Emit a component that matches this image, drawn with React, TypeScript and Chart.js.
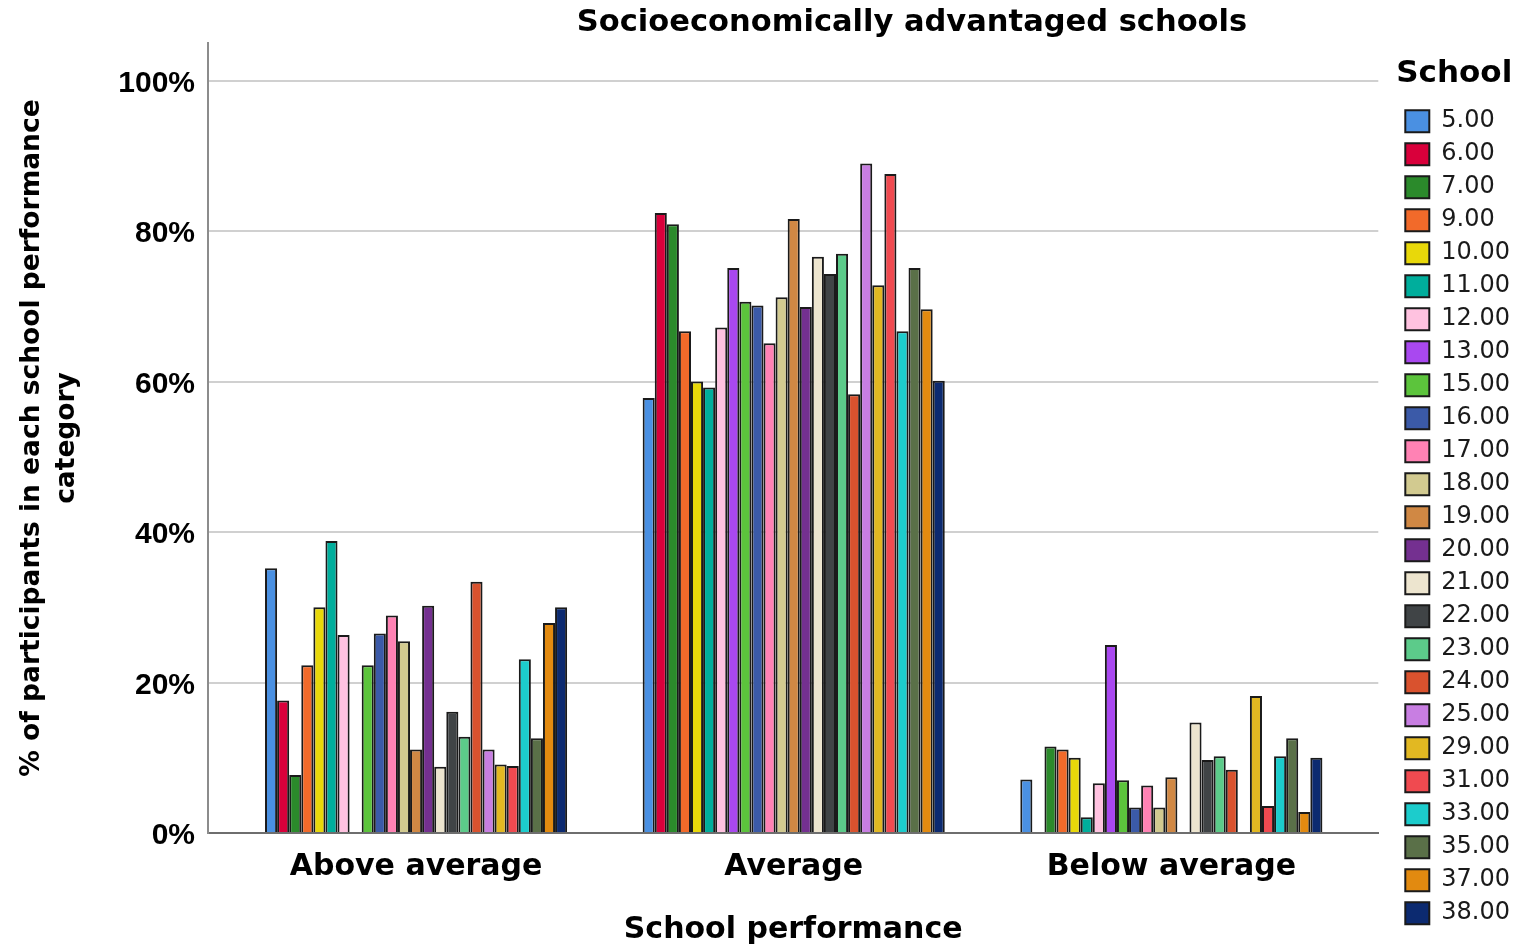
import { useEffect, useRef } from 'react';
import { Chart, registerables } from 'chart.js';

Chart.register(...registerables);

const chartTitle = 'Socioeconomically advantaged schools';
const categories = ['Above average', 'Average', 'Below average'];
const schools = ['5.00', '6.00', '7.00', '9.00', '10.00', '11.00', '12.00', '13.00', '15.00', '16.00', '17.00', '18.00', '19.00', '20.00', '21.00', '22.00', '23.00', '24.00', '25.00', '29.00', '31.00', '33.00', '35.00', '37.00', '38.00'];
const colors = ['#4a90e2', '#d9003b', '#2b8a2b', '#f26a2a', '#e8d80a', '#00ae9c', '#ffc2e0', '#a948f0', '#5cc43c', '#3b5aa8', '#ff82b4', '#d2ca90', '#d08844', '#743090', '#ede5cf', '#404446', '#5ccb8a', '#d9522e', '#c87ee2', '#e2b822', '#f04a50', '#1ccccc', '#5a7048', '#e28a10', '#0c2a70'];
const aboveAverage = [35.2, 17.6, 7.7, 22.3, 30.0, 38.8, 26.3, null, 22.3, 26.5, 28.9, 25.5, 11.1, 30.2, 8.8, 16.1, 12.8, 33.4, 11.1, 9.1, 8.9, 23.1, 12.6, 27.9, 30.0];
const average = [57.8, 82.4, 80.9, 66.7, 60.0, 59.2, 67.2, 75.1, 70.6, 70.1, 65.1, 71.2, 81.6, 69.9, 76.6, 74.3, 77.0, 58.3, 89.0, 72.8, 87.6, 66.7, 75.1, 69.6, 60.1];
const belowAverage = [7.1, null, 11.5, 11.1, 10.0, 2.1, 6.6, 25.0, 7.0, 3.4, 6.3, 3.4, 7.4, null, 14.7, 9.7, 10.2, 8.4, null, 18.2, 3.6, 10.2, 12.6, 2.8, 10.0];
const yTicks = [0, 20, 40, 60, 80, 100];
const yTitle = ['% of participants in each school performance', 'category'];
const xTitle = 'School performance';
const legendTitle = 'School';

const titlePlugin = {
  id: 'topTitle',
  afterDraw(chart: any) {
    const ctx = chart.ctx;
    ctx.save();
    ctx.font = 'bold 30.5px "DejaVu Sans"';
    ctx.fillStyle = '#000';
    ctx.textAlign = 'center';
    ctx.textBaseline = 'middle';
    ctx.fillText(chartTitle, chart.width * 0.6, 23);
    ctx.restore();
  },
};

export default function App() {
  const ref = useRef<HTMLCanvasElement>(null);

  useEffect(() => {
    document.body.style.margin = '0';
    const canvas = ref.current;
    if (!canvas) return;
    const series = [aboveAverage, average, belowAverage];
    const datasets = schools.map((s, i) => ({
      label: s,
      data: series.map((arr, c) => ({ x: c, y: arr[i] })),
      backgroundColor: colors[i],
      borderColor: '#1a1a1a',
      borderWidth: 2,
      xAxisID: 'x',
      yAxisID: 'y',
    }));

    const chart = new Chart(canvas, {
      type: 'bar',
      data: { datasets } as any,
      plugins: [titlePlugin],
      options: {
        animation: false,
        responsive: false,
        devicePixelRatio: 1,
        layout: { padding: { top: 43, left: 0, right: 0, bottom: 0 } },
        datasets: { bar: { categoryPercentage: 0.8, barPercentage: 1.0 } },
        plugins: {
          tooltip: { enabled: false },
          title: { display: false },
          legend: {
            position: 'right',
            align: 'start',
            title: {
              display: true,
              text: legendTitle,
              position: 'start',
              color: '#000',
              font: { family: 'DejaVu Sans', weight: 'bold', size: 31 },
              padding: { top: 15, bottom: 5 },
            },
            labels: {
              boxWidth: 24,
              boxHeight: 22,
              padding: 9,
              color: '#1a1a1a',
              font: { family: 'DejaVu Sans', size: 24 },
            },
          },
        },
        scales: {
          x: {
            type: 'linear',
            offset: false,
            min: -0.551,
            max: 2.548,
            grid: { display: false, drawTicks: false, offset: false },
            border: { display: true, color: '#6e6e6e', width: 2 },
            afterBuildTicks: (s: any) => {
              s.ticks = categories.map((_, i) => ({ value: i }));
            },
            afterFit: (s: any) => {
              s.height = 115;
            },
            ticks: {
              color: '#000',
              padding: 16,
              maxRotation: 0,
              autoSkip: false,
              font: { family: 'DejaVu Sans', weight: 'bold', size: 30 },
              callback: (v: any) => categories[v] ?? '',
            },
            title: {
              display: true,
              text: xTitle,
              color: '#000',
              font: { family: 'DejaVu Sans', weight: 'bold', size: 30 },
              padding: { top: 0, bottom: 0 },
            },
          },
          y: {
            min: 0,
            max: 105,
            grid: { color: '#d0d0d0', lineWidth: 2, drawTicks: false },
            border: { display: true, color: '#8c8c8c', width: 2 },
            afterBuildTicks: (s: any) => {
              s.ticks = yTicks.map((v) => ({ value: v }));
            },
            afterFit: (s: any) => {
              s.width = 208;
            },
            ticks: {
              color: '#000',
              padding: 13,
              labelOffset: 3,
              font: { family: 'Liberation Sans', weight: 'bold', size: 30 },
              callback: (v: any) => `${v}%`,
            },
            title: {
              display: true,
              text: yTitle,
              color: '#000',
              font: { family: 'DejaVu Sans', weight: 'bold', size: 26.5, lineHeight: 1.32 },
              padding: { top: 15, bottom: 0 },
            },
          },
          gap: {
            type: 'linear',
            position: 'right',
            display: true,
            grid: { display: false, drawTicks: false },
            border: { display: false },
            ticks: { display: false },
            afterFit: (s: any) => {
              s.width = 18;
            },
          },
        },
      } as any,
    });

    return () => chart.destroy();
  }, []);

  return <canvas ref={ref} width={1520} height={948} style={{ display: 'block' }} />;
}
